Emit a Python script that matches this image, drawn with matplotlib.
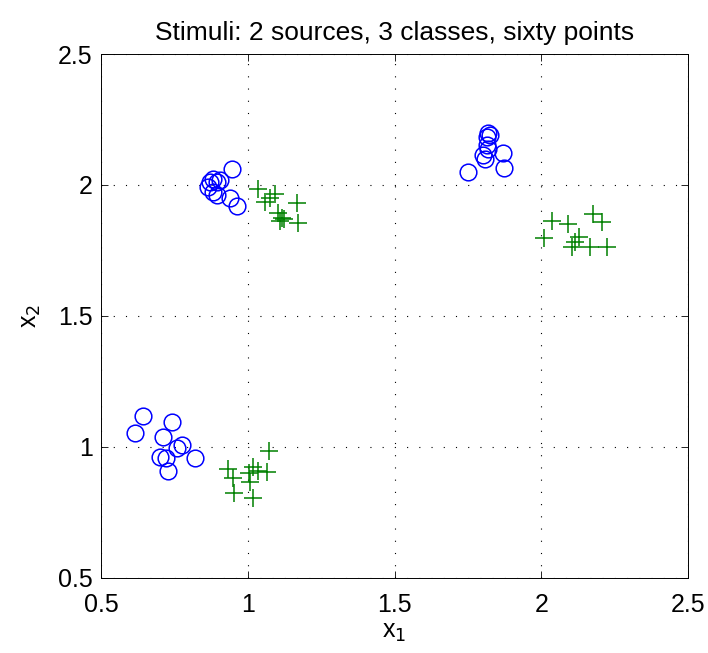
import numpy as np
import matplotlib
matplotlib.use("Agg")
import matplotlib.pyplot as plt

plt.rcParams['font.family'] = ['Liberation Sans', 'DejaVu Sans']

# class A (circles) and class B (pluses), two sources each side
circ_x = [0.947, 0.871, 0.883, 0.894, 0.905, 0.866, 0.880, 0.895, 0.940, 0.962,
          1.820, 1.825, 1.814, 1.814, 1.803, 1.808, 1.869, 1.873, 1.752, 1.820,
          0.644, 0.616, 0.741, 0.712, 0.775, 0.758, 0.701, 0.721, 0.729, 0.820]
circ_y = [2.061, 2.013, 2.022, 2.013, 2.019, 1.994, 1.975, 1.962, 1.952, 1.921,
          2.197, 2.191, 2.182, 2.153, 2.115, 2.098, 2.121, 2.066, 2.051, 2.136,
          1.118, 1.052, 1.094, 1.039, 1.008, 0.995, 0.963, 0.957, 0.908, 0.957]

plus_x = [1.036, 1.059, 1.076, 1.093, 1.169, 1.104, 1.116, 1.110, 1.124, 1.172,
          2.035, 2.090, 2.175, 2.206, 2.010, 2.130, 2.115, 2.104, 2.166, 2.223,
          1.073, 0.934, 0.949, 1.019, 1.034, 1.064, 1.005, 1.008, 0.953, 1.017]
plus_y = [1.983, 1.936, 1.949, 1.964, 1.932, 1.892, 1.873, 1.863, 1.869, 1.856,
          1.863, 1.851, 1.888, 1.858, 1.797, 1.803, 1.784, 1.765, 1.765, 1.765,
          0.986, 0.915, 0.880, 0.923, 0.910, 0.906, 0.900, 0.868, 0.826, 0.804]

ticks = [0.5, 1, 1.5, 2, 2.5]
tick_labels = ["0.5", "1", "1.5", "2", "2.5"]

fig = plt.figure(figsize=(7.08, 6.53), dpi=100)
ax = fig.add_axes([0.1427, 0.1149, 0.8291, 0.8024])

ax.plot(circ_x, circ_y, linestyle="none", marker="o", markersize=12,
        markerfacecolor="none", markeredgecolor="#0000ff", markeredgewidth=1.1)
ax.plot(plus_x, plus_y, linestyle="none", marker="+", markersize=12.5,
        color="#008000", markeredgewidth=1.1)

ax.set_xlim(0.5, 2.5)
ax.set_ylim(0.5, 2.5)
ax.set_xticks(ticks)
ax.set_xticklabels(tick_labels)
ax.set_yticks(ticks)
ax.set_yticklabels(tick_labels)
ax.tick_params(direction="in", top=True, right=True, length=5, width=0.6,
               labelsize=18)
ax.tick_params(axis="x", pad=11)
ax.tick_params(axis="y", pad=6)
ax.grid(True, color="black", linestyle=(0, (1, 10)), linewidth=0.8)
for sp in ax.spines.values():
    sp.set_linewidth(0.7)

ax.set_xlabel("x$_1$", fontsize=18, labelpad=2)
ax.set_ylabel("x$_2$", fontsize=18, labelpad=11)
ax.set_title("Stimuli: 2 sources, 3 classes, sixty points", fontsize=19, pad=10)

fig.savefig("out.png", dpi=100, facecolor="white")
